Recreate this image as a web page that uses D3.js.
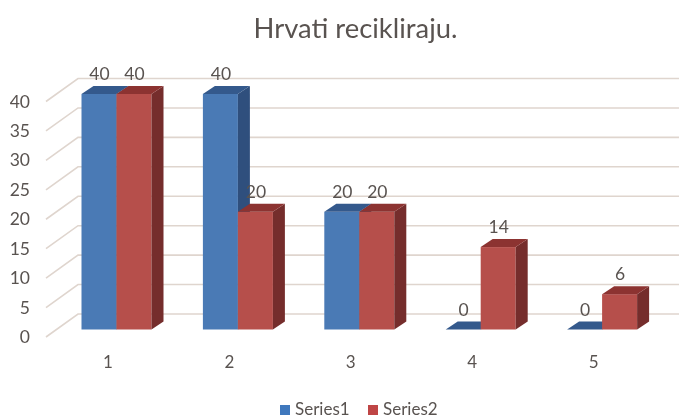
<!DOCTYPE html>
<html>
<head>
<meta charset="utf-8">
<script src="https://cdn.jsdelivr.net/npm/d3@7"></script>
<style>
  html, body { margin: 0; padding: 0; background: #fff; }
  svg { display: block; font-family: Lato, "Open Sans", sans-serif; filter: blur(0.5px); }
</style>
</head>
<body>
<div id="chart"></div>
<script>
const title = 'Hrvati recikliraju.';
const categories = ['1', '2', '3', '4', '5'];
const seriesNames = ['Series1', 'Series2'];
const series1 = [40, 40, 20, 0, 0];
const series2 = [40, 20, 20, 14, 6];
const yTicks = [0, 5, 10, 15, 20, 25, 30, 35, 40];

const width = 679, height = 419;
const depthX = 12, depthY = 8; // the fake 3d offset of the bars
const colors = {
  Series1: {front: '#4a7ab5', top: '#34598c', side: '#2f4f7d', key: '#3f78bd'},
  Series2: {front: '#b64f4b', top: '#8c3331', side: '#752d2c', key: '#bf4545'}
};
const textColor = '#595350';
const gridColor = '#dfd5ce';

const svg = d3.select('#chart').append('svg')
  .attr('width', width)
  .attr('height', height);

const x = d3.scaleBand().domain(categories).range([55.8, 662.8]);
const inner = d3.scaleBand().domain(seriesNames).range([0, 70]);
const y = d3.scaleLinear().domain([0, 40]).range([329.5, 94]);

svg.append('text')
  .attr('x', 355.5).attr('y', 38)
  .attr('text-anchor', 'middle')
  .attr('font-size', 27.4)
  .attr('fill', textColor)
  .text(title);

// back wall gridlines and the diagonal side bit
const grid = svg.append('g');
yTicks.forEach(t => {
  const yy = y(t);
  grid.append('path')
    .attr('d', `M46,${yy + 7.5}L78,${yy - 15.5}H679`)
    .attr('fill', 'none')
    .attr('stroke', gridColor)
    .attr('stroke-width', 1.6);
  grid.append('text')
    .attr('x', 30).attr('y', yy + 13.5)
    .attr('text-anchor', 'end')
    .attr('font-size', 17.5)
    .attr('fill', textColor)
    .text(t);
});

const rows = seriesNames.map((name, s) => ({name, values: s === 0 ? series1 : series2}));

categories.forEach((cat, i) => {
  const g = svg.append('g');
  const x0 = x(cat) + x.bandwidth() / 2 - 35;
  rows.forEach(row => {
    const v = row.values[i];
    const left = x0 + inner(row.name);
    const right = left + inner.bandwidth();
    const top = y(v), base = y(0);
    const c = colors[row.name];
    if (v > 0) {
      g.append('rect')
        .attr('x', left).attr('y', top)
        .attr('width', right - left).attr('height', base - top)
        .attr('fill', c.front);
      g.append('path')
        .attr('d', `M${right},${top}l${depthX},${-depthY}V${base - depthY}l${-depthX},${depthY}Z`)
        .attr('fill', c.side);
    }
    g.append('path')
      .attr('d', `M${left},${top}l${depthX},${-depthY}H${right + depthX}l${-depthX},${depthY}Z`)
      .attr('fill', c.top);
  });
  svg.append('text')
    .attr('x', x0 + 26.5).attr('y', 368)
    .attr('text-anchor', 'middle')
    .attr('font-size', 17)
    .attr('fill', textColor)
    .text(cat);
});

// data labels go on top of everything
categories.forEach((cat, i) => {
  const x0 = x(cat) + x.bandwidth() / 2 - 35;
  rows.forEach(row => {
    const v = row.values[i];
    svg.append('text')
      .attr('x', x0 + inner(row.name) + inner.bandwidth() / 2 + 0.5)
      .attr('y', y(v) - 14)
      .attr('text-anchor', 'middle')
      .attr('font-size', 17.5)
      .attr('fill', textColor)
      .text(v);
  });
});

const legendX = {Series1: 280, Series2: 368};
seriesNames.forEach(name => {
  svg.append('rect')
    .attr('x', legendX[name]).attr('y', 405)
    .attr('width', 10).attr('height', 10)
    .attr('fill', colors[name].key);
  svg.append('text')
    .attr('x', legendX[name] + 15).attr('y', 415)
    .attr('font-size', 17)
    .attr('fill', textColor)
    .text(name);
});
</script>
</body>
</html>
